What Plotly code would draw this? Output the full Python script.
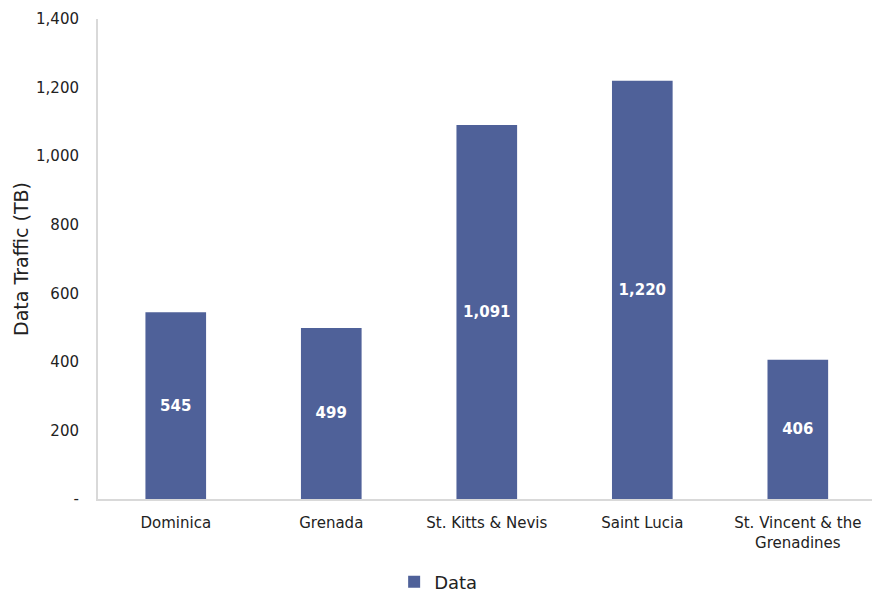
import plotly.graph_objects as go

countries = ["Dominica", "Grenada", "St. Kitts & Nevis", "Saint Lucia",
             "St. Vincent & the<br>Grenadines"]
traffic_tb = [545, 499, 1091, 1220, 406]
y_ticks = [0, 200, 400, 600, 800, 1000, 1200, 1400]
y_tick_text = ["-", "200", "400", "600", "800", "1,000", "1,200", "1,400"]

font_family = "DejaVu Sans"
bar_color = "#4F6199"
text_color = "#222222"

fig = go.Figure(go.Bar(
    x=list(range(len(countries))),
    y=traffic_tb,
    name="Data",
    width=0.39,
    marker=dict(color=bar_color, line=dict(width=0)),
    text=[f"{v:,}" for v in traffic_tb],
    textposition="inside",
    insidetextanchor="middle",
    textfont=dict(family=font_family, size=15, color="white", weight="bold"),
    showlegend=True,
))

fig.update_layout(
    width=872, height=594,
    margin=dict(l=98, r=0, t=19, b=95, autoexpand=False),
    paper_bgcolor="white", plot_bgcolor="white",
    font=dict(family=font_family, size=15, color=text_color),
    xaxis=dict(
        tickmode="array",
        tickvals=list(range(len(countries))),
        ticktext=countries,
        range=[-0.5, 4.477],
        showline=True, linecolor="#d9d9d9", linewidth=2,
        showgrid=False, ticks="", zeroline=False,
        ticklabelstandoff=9,
        tickfont=dict(size=15, color=text_color),
    ),
    yaxis=dict(
        range=[0, 1400],
        tickmode="array", tickvals=y_ticks, ticktext=y_tick_text,
        showline=True, linecolor="#d9d9d9", linewidth=2,
        showgrid=False, ticks="", zeroline=False,
        ticklabelstandoff=14,
        tickfont=dict(size=15, color=text_color),
        title=dict(text="Data Traffic (TB)", font=dict(size=19, color=text_color),
                   standoff=2),
    ),
    legend=dict(
        orientation="h", xref="container", x=0.452, xanchor="left",
        yref="container", y=0.02, yanchor="middle",
        font=dict(size=18, color=text_color),
        itemwidth=30,
    ),
)

fig.write_html("out.html")
